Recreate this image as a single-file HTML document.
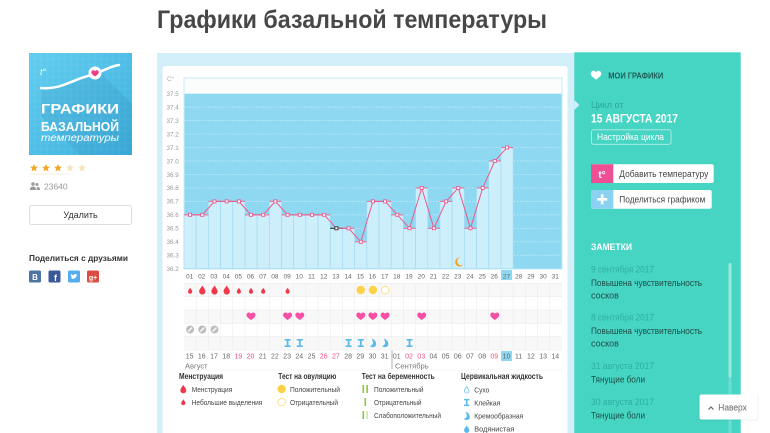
<!DOCTYPE html>
<html><head><meta charset="utf-8"><style>
html,body{margin:0;padding:0;background:#fff;width:770px;height:433px;overflow:hidden}
svg{display:block;font-family:"Liberation Sans","Noto Sans CJK SC",sans-serif}
</style></head><body>
<svg width="770" height="433" viewBox="0 0 770 433" xmlns="http://www.w3.org/2000/svg">
<defs>
<path id="heart" d="M0,4 C-2,2.5 -5,0.5 -5,-1.5 C-5,-3.5 -3.5,-4.5 -2.5,-4.5 C-1.3,-4.5 -0.4,-3.8 0,-3 C0.4,-3.8 1.3,-4.5 2.5,-4.5 C3.5,-4.5 5,-3.5 5,-1.5 C5,0.5 2,2.5 0,4 Z"/>
<path id="drop" d="M0,-5.5 C1.5,-3 3.5,-1 3.5,1 A3.5,3.5 0 0 1 -3.5,1 C-3.5,-1 -1.5,-3 0,-5.5 Z"/>
<g id="sticky" fill="#5cb9ee"><rect x="-3" y="-4" width="6" height="1.6"/><rect x="-0.9" y="-3" width="1.8" height="6"/><rect x="-3" y="2.4" width="6" height="1.6"/></g>
<g id="creamy"><path d="M-1,-4.5 C2.5,-3 4,0 3,2.5 C2,4.5 -1.5,4.8 -3,3 C-1,2.5 0.5,1 0,-1 C-0.3,-2.3 -1,-3.5 -1,-4.5 Z" fill="#5cb9ee"/></g>
<g id="nocirc"><circle r="4" fill="#bdbdbd"/><line x1="-2" y1="2" x2="2" y2="-2" stroke="#fff" stroke-width="1.3"/></g>
<linearGradient id="lg" x1="0" y1="0" x2="1" y2="1"><stop offset="0" stop-color="#62cdef"/><stop offset="1" stop-color="#3cb0de"/></linearGradient>
</defs>

<!-- Title -->
<text x="157" y="28" font-size="25" font-weight="bold" fill="#474747" textLength="390" lengthAdjust="spacingAndGlyphs">Графики базальной температуры</text>

<!-- Left sidebar logo -->
<rect x="29" y="53" width="103" height="102" fill="url(#lg)"/>
<g stroke="#ffffff" stroke-opacity="0.12" stroke-width="0.6">
<line x1="35" y1="53" x2="35" y2="155"/><line x1="41" y1="53" x2="41" y2="155"/><line x1="47" y1="53" x2="47" y2="155"/><line x1="53" y1="53" x2="53" y2="155"/><line x1="59" y1="53" x2="59" y2="155"/><line x1="65" y1="53" x2="65" y2="155"/><line x1="71" y1="53" x2="71" y2="155"/><line x1="77" y1="53" x2="77" y2="155"/><line x1="83" y1="53" x2="83" y2="155"/><line x1="89" y1="53" x2="89" y2="155"/><line x1="95" y1="53" x2="95" y2="155"/><line x1="101" y1="53" x2="101" y2="155"/><line x1="107" y1="53" x2="107" y2="155"/><line x1="113" y1="53" x2="113" y2="155"/><line x1="119" y1="53" x2="119" y2="155"/><line x1="125" y1="53" x2="125" y2="155"/>
<line x1="29" y1="59" x2="132" y2="59"/><line x1="29" y1="65" x2="132" y2="65"/><line x1="29" y1="71" x2="132" y2="71"/><line x1="29" y1="77" x2="132" y2="77"/><line x1="29" y1="83" x2="132" y2="83"/><line x1="29" y1="89" x2="132" y2="89"/><line x1="29" y1="95" x2="132" y2="95"/><line x1="29" y1="101" x2="132" y2="101"/><line x1="29" y1="107" x2="132" y2="107"/><line x1="29" y1="113" x2="132" y2="113"/><line x1="29" y1="119" x2="132" y2="119"/><line x1="29" y1="125" x2="132" y2="125"/><line x1="29" y1="131" x2="132" y2="131"/><line x1="29" y1="137" x2="132" y2="137"/><line x1="29" y1="143" x2="132" y2="143"/><line x1="29" y1="149" x2="132" y2="149"/>
</g>
<polygon points="41,90 100,72 132,104 132,155 80,155 41,116" fill="#1d6f9a" fill-opacity="0.12"/>
<text x="40" y="75" font-size="9" fill="#fff" font-style="italic">t°</text>
<path d="M41,88 C60,90 72,80 88,76 C100,73 110,66 119,65" fill="none" stroke="#fff" stroke-width="2.5" stroke-linecap="round"/>
<circle cx="95" cy="73" r="6.5" fill="#fff"/>
<use href="#heart" x="95" y="73.5" fill="#ee3f84" transform="translate(95,73.5) scale(0.75) translate(-95,-73.5)"/>
<text x="41" y="113.5" font-size="14" font-weight="bold" fill="#fff" textLength="78" lengthAdjust="spacingAndGlyphs">ГРАФИКИ</text>
<text x="41" y="131" font-size="12.5" font-weight="bold" fill="#fff" textLength="78" lengthAdjust="spacingAndGlyphs">БАЗАЛЬНОЙ</text>
<text x="41" y="141" font-size="10" fill="#fff" font-style="italic" textLength="78" lengthAdjust="spacingAndGlyphs">температуры</text>

<!-- stars -->
<g>
<polygon transform="translate(34,168)" points="0,-4 1.2,-1.3 4,-1.2 1.8,0.6 2.5,3.5 0,1.9 -2.5,3.5 -1.8,0.6 -4,-1.2 -1.2,-1.3" fill="#f5a623"/>
<polygon transform="translate(46,168)" points="0,-4 1.2,-1.3 4,-1.2 1.8,0.6 2.5,3.5 0,1.9 -2.5,3.5 -1.8,0.6 -4,-1.2 -1.2,-1.3" fill="#f5a623"/>
<polygon transform="translate(58,168)" points="0,-4 1.2,-1.3 4,-1.2 1.8,0.6 2.5,3.5 0,1.9 -2.5,3.5 -1.8,0.6 -4,-1.2 -1.2,-1.3" fill="#f5a623"/>
<polygon transform="translate(70,168)" points="0,-4 1.2,-1.3 4,-1.2 1.8,0.6 2.5,3.5 0,1.9 -2.5,3.5 -1.8,0.6 -4,-1.2 -1.2,-1.3" fill="#f7e3b8"/>
<polygon transform="translate(82,168)" points="0,-4 1.2,-1.3 4,-1.2 1.8,0.6 2.5,3.5 0,1.9 -2.5,3.5 -1.8,0.6 -4,-1.2 -1.2,-1.3" fill="#f7e3b8"/>
</g>
<line x1="29" y1="174" x2="70" y2="174" stroke="#f6ead0" stroke-width="0.8"/>
<!-- users -->
<g fill="#9a9a9a"><circle cx="33" cy="184" r="1.8"/><path d="M30,190 C30,187 31.5,186.5 33,186.5 C34.5,186.5 36,187 36,190 Z"/><circle cx="37" cy="184.5" r="1.5"/><path d="M36.5,190 C36.5,188 37,187 38,187 C39.3,187 40,188 40,190 Z"/></g>
<text x="44" y="189.5" font-size="8.5" fill="#999">23640</text>
<!-- delete btn -->
<rect x="29.5" y="205.5" width="102" height="19" rx="2" fill="#fff" stroke="#dedede"/>
<text x="80.5" y="218" font-size="9" fill="#333" text-anchor="middle">Удалить</text>
<text x="29" y="261" font-size="8.5" font-weight="bold" fill="#333" textLength="99" lengthAdjust="spacingAndGlyphs">Поделиться с друзьями</text>
<rect x="29" y="270.5" width="12" height="12" rx="1.5" fill="#4c75a3"/><text x="35" y="280" font-size="8" font-weight="bold" fill="#fff" text-anchor="middle">B</text>
<rect x="48.5" y="270.5" width="12" height="12" rx="1.5" fill="#3b5998"/><text x="55.5" y="281" font-size="9" font-weight="bold" fill="#fff" text-anchor="middle">f</text>
<rect x="68" y="270.5" width="12" height="12" rx="1.5" fill="#55acee"/><path d="M70.5,278.5 C72.5,279.5 75.5,279 76.5,276 L77.5,274.5 L76.5,274.7 C76,273.5 74,273.5 73.8,275.3 C72.5,275.2 71.5,274.5 70.8,273.8 C70.5,275 71,276 72,276.5 C71.5,276.6 71,276.4 70.8,276.3 C71,277.3 71.7,277.8 72.4,278 C71.9,278.3 71.2,278.5 70.5,278.5 Z" fill="#fff"/>
<rect x="87" y="270.5" width="12" height="12" rx="1.5" fill="#dc4e41"/><text x="93" y="280" font-size="7" font-weight="bold" fill="#fff" text-anchor="middle">g+</text>

<!-- main container -->
<rect x="157" y="53" width="418" height="380" fill="#d1eef9"/>
<rect x="162.5" y="66" width="405" height="375" rx="3" fill="#fff"/>

<!-- Y axis -->
<text x="167" y="81" font-size="6.5" fill="#aaa">C°</text>
<g font-size="6.3" fill="#999">
<text x="166.5" y="96">37.5</text><text x="166.5" y="109.5">37.4</text><text x="166.5" y="123">37.3</text><text x="166.5" y="136.4">37.2</text><text x="166.5" y="149.8">37.1</text><text x="166.5" y="163.3">37.0</text><text x="166.5" y="176.8">36.9</text><text x="166.5" y="190.2">36.8</text><text x="166.5" y="203.7">36.7</text><text x="166.5" y="217.1">36.6</text><text x="166.5" y="230.6">36.5</text><text x="166.5" y="244">36.4</text><text x="166.5" y="257.5">36.3</text><text x="166.5" y="271">36.2</text>
</g>

<!-- plot -->
<rect x="184" y="78" width="378" height="191" fill="#fbfdfd" stroke="#c4ebf8" stroke-width="1"/>
<rect x="184.5" y="93.7" width="377" height="175" fill="#8fd8f2"/>
<g stroke="#ffffff" stroke-opacity="0.55" stroke-width="0.7" stroke-dasharray="1.5,1.5">
<line x1="184" y1="107.16" x2="562" y2="107.16"/><line x1="184" y1="120.62" x2="562" y2="120.62"/><line x1="184" y1="134.08" x2="562" y2="134.08"/><line x1="184" y1="147.54" x2="562" y2="147.54"/><line x1="184" y1="161" x2="562" y2="161"/><line x1="184" y1="174.46" x2="562" y2="174.46"/><line x1="184" y1="187.92" x2="562" y2="187.92"/><line x1="184" y1="201.38" x2="562" y2="201.38"/><line x1="184" y1="214.84" x2="562" y2="214.84"/><line x1="184" y1="228.3" x2="562" y2="228.3"/><line x1="184" y1="241.76" x2="562" y2="241.76"/><line x1="184" y1="255.22" x2="562" y2="255.22"/>
</g>
<g fill="#cdeefb" stroke="#a3dcf2" stroke-width="0.7">
<rect x="184" y="214.84" width="12.19" height="53.86"/>
<rect x="196.19" y="214.84" width="12.19" height="53.86"/>
<rect x="208.38" y="201.38" width="12.19" height="67.32"/>
<rect x="220.57" y="201.38" width="12.19" height="67.32"/>
<rect x="232.76" y="201.38" width="12.19" height="67.32"/>
<rect x="244.95" y="214.84" width="12.19" height="53.86"/>
<rect x="257.14" y="214.84" width="12.19" height="53.86"/>
<rect x="269.33" y="201.38" width="12.19" height="67.32"/>
<rect x="281.52" y="214.84" width="12.19" height="53.86"/>
<rect x="293.71" y="214.84" width="12.19" height="53.86"/>
<rect x="305.9" y="214.84" width="12.19" height="53.86"/>
<rect x="318.09" y="214.84" width="12.19" height="53.86"/>
<rect x="330.28" y="228.3" width="12.19" height="40.4"/>
<rect x="342.47" y="228.3" width="12.19" height="40.4"/>
<rect x="354.66" y="241.76" width="12.19" height="26.94"/>
<rect x="366.85" y="201.38" width="12.19" height="67.32"/>
<rect x="379.04" y="201.38" width="12.19" height="67.32"/>
<rect x="391.23" y="214.84" width="12.19" height="53.86"/>
<rect x="403.42" y="228.3" width="12.19" height="40.4"/>
<rect x="415.61" y="187.92" width="12.19" height="80.78"/>
<rect x="427.8" y="228.3" width="12.19" height="40.4"/>
<rect x="439.99" y="201.38" width="12.19" height="67.32"/>
<rect x="452.18" y="187.92" width="12.19" height="80.78"/>
<rect x="464.37" y="228.3" width="12.19" height="40.4"/>
<rect x="476.56" y="187.92" width="12.19" height="80.78"/>
<rect x="488.75" y="161" width="12.19" height="107.7"/>
<rect x="500.94" y="147.54" width="12.19" height="121.16"/>
</g>
<!-- caps -->
<g stroke="#e8729c" stroke-width="1.1">
<line x1="184" y1="214.84" x2="196.19" y2="214.84"/><line x1="196.19" y1="214.84" x2="208.38" y2="214.84"/><line x1="208.38" y1="201.38" x2="220.57" y2="201.38"/><line x1="220.57" y1="201.38" x2="232.76" y2="201.38"/><line x1="232.76" y1="201.38" x2="244.95" y2="201.38"/><line x1="244.95" y1="214.84" x2="257.14" y2="214.84"/><line x1="257.14" y1="214.84" x2="269.33" y2="214.84"/><line x1="269.33" y1="201.38" x2="281.52" y2="201.38"/><line x1="281.52" y1="214.84" x2="293.71" y2="214.84"/><line x1="293.71" y1="214.84" x2="305.9" y2="214.84"/><line x1="305.9" y1="214.84" x2="318.09" y2="214.84"/><line x1="318.09" y1="214.84" x2="330.28" y2="214.84"/><line x1="342.47" y1="228.3" x2="354.66" y2="228.3"/><line x1="354.66" y1="241.76" x2="366.85" y2="241.76"/><line x1="366.85" y1="201.38" x2="379.04" y2="201.38"/><line x1="379.04" y1="201.38" x2="391.23" y2="201.38"/><line x1="391.23" y1="214.84" x2="403.42" y2="214.84"/><line x1="403.42" y1="228.3" x2="415.61" y2="228.3"/><line x1="415.61" y1="187.92" x2="427.8" y2="187.92"/><line x1="427.8" y1="228.3" x2="439.99" y2="228.3"/><line x1="439.99" y1="201.38" x2="452.18" y2="201.38"/><line x1="452.18" y1="187.92" x2="464.37" y2="187.92"/><line x1="464.37" y1="228.3" x2="476.56" y2="228.3"/><line x1="476.56" y1="187.92" x2="488.75" y2="187.92"/><line x1="488.75" y1="161" x2="500.94" y2="161"/><line x1="500.94" y1="147.54" x2="513.13" y2="147.54"/>
</g>
<line x1="330.28" y1="228.3" x2="342.47" y2="228.3" stroke="#333" stroke-width="1.1"/>
<polyline fill="none" stroke="#ea5a8d" stroke-width="1" points="190.1,214.84 202.3,214.84 214.5,201.38 226.7,201.38 238.9,201.38 251,214.84 263.2,214.84 275.4,201.38 287.6,214.84 299.8,214.84 312,214.84 324.2,214.84 336.4,228.3 348.6,228.3 360.8,241.76 372.9,201.38 385.1,201.38 397.3,214.84 409.5,228.3 421.7,187.92 433.9,228.3 446.1,201.38 458.3,187.92 470.5,228.3 482.7,187.92 494.8,161 507,147.54"/>
<g fill="#fff" stroke="#ea5a8d" stroke-width="0.9">
<rect x="188.6" y="213.3" width="3" height="3"/><rect x="200.8" y="213.3" width="3" height="3"/><rect x="213" y="199.9" width="3" height="3"/><rect x="225.2" y="199.9" width="3" height="3"/><rect x="237.4" y="199.9" width="3" height="3"/><rect x="249.5" y="213.3" width="3" height="3"/><rect x="261.7" y="213.3" width="3" height="3"/><rect x="273.9" y="199.9" width="3" height="3"/><rect x="286.1" y="213.3" width="3" height="3"/><rect x="298.3" y="213.3" width="3" height="3"/><rect x="310.5" y="213.3" width="3" height="3"/><rect x="322.7" y="213.3" width="3" height="3"/><rect x="347.1" y="226.8" width="3" height="3"/><rect x="359.3" y="240.3" width="3" height="3"/><rect x="371.4" y="199.9" width="3" height="3"/><rect x="383.6" y="199.9" width="3" height="3"/><rect x="395.8" y="213.3" width="3" height="3"/><rect x="408" y="226.8" width="3" height="3"/><rect x="420.2" y="186.4" width="3" height="3"/><rect x="432.4" y="226.8" width="3" height="3"/><rect x="444.6" y="199.9" width="3" height="3"/><rect x="456.8" y="186.4" width="3" height="3"/><rect x="469" y="226.8" width="3" height="3"/><rect x="481.2" y="186.4" width="3" height="3"/><rect x="493.3" y="159.5" width="3" height="3"/><rect x="505.5" y="146" width="3" height="3"/>
</g>
<rect x="334.9" y="226.8" width="3" height="3" fill="#fff" stroke="#333" stroke-width="0.9"/>
<!-- moon -->
<path d="M459.5,257.5 A4.5,4.5 0 1 0 463,265 A3.6,3.6 0 1 1 459.5,257.5 Z" fill="#f5a11c"/>

<!-- day labels -->
<rect x="501" y="270" width="11" height="10" fill="#8fd8f2"/>
<g font-size="6.5" fill="#666" text-anchor="middle">
<text x="189.6" y="278.5">01</text><text x="201.8" y="278.5">02</text><text x="214" y="278.5">03</text><text x="226.2" y="278.5">04</text><text x="238.4" y="278.5">05</text><text x="250.5" y="278.5">06</text><text x="262.7" y="278.5">07</text><text x="274.9" y="278.5">08</text><text x="287.1" y="278.5">09</text><text x="299.3" y="278.5">10</text><text x="311.5" y="278.5">11</text><text x="323.7" y="278.5">12</text><text x="335.9" y="278.5">13</text><text x="348.1" y="278.5">14</text><text x="360.3" y="278.5">15</text><text x="372.4" y="278.5">16</text><text x="384.6" y="278.5">17</text><text x="396.8" y="278.5">18</text><text x="409" y="278.5">19</text><text x="421.2" y="278.5">20</text><text x="433.4" y="278.5">21</text><text x="445.6" y="278.5">22</text><text x="457.8" y="278.5">23</text><text x="470" y="278.5">24</text><text x="482.2" y="278.5">25</text><text x="494.3" y="278.5">26</text><text x="506.5" y="278.5">27</text><text x="518.7" y="278.5">28</text><text x="530.9" y="278.5">29</text><text x="543.1" y="278.5">30</text><text x="555.3" y="278.5">31</text>
</g>

<!-- icon rows grid -->
<rect x="184" y="283.3" width="378" height="13.4" fill="#f8f8f8"/>
<rect x="184" y="310" width="378" height="13.3" fill="#f8f8f8"/>
<rect x="184" y="336.7" width="378" height="13.3" fill="#f8f8f8"/>
<g stroke="#ececec" stroke-width="0.6">
<line x1="184" y1="283.3" x2="562" y2="283.3"/><line x1="184" y1="296.7" x2="562" y2="296.7"/><line x1="184" y1="310" x2="562" y2="310"/><line x1="184" y1="323.3" x2="562" y2="323.3"/><line x1="184" y1="336.7" x2="562" y2="336.7"/><line x1="184" y1="350" x2="562" y2="350"/>
<line x1="196.19" y1="283" x2="196.19" y2="350"/><line x1="208.38" y1="283" x2="208.38" y2="350"/><line x1="220.57" y1="283" x2="220.57" y2="350"/><line x1="232.76" y1="283" x2="232.76" y2="350"/><line x1="244.95" y1="283" x2="244.95" y2="350"/><line x1="257.14" y1="283" x2="257.14" y2="350"/><line x1="269.33" y1="283" x2="269.33" y2="350"/><line x1="281.52" y1="283" x2="281.52" y2="350"/><line x1="293.71" y1="283" x2="293.71" y2="350"/><line x1="305.9" y1="283" x2="305.9" y2="350"/><line x1="318.09" y1="283" x2="318.09" y2="350"/><line x1="330.28" y1="283" x2="330.28" y2="350"/><line x1="342.47" y1="283" x2="342.47" y2="350"/><line x1="354.66" y1="283" x2="354.66" y2="350"/><line x1="366.85" y1="283" x2="366.85" y2="350"/><line x1="379.04" y1="283" x2="379.04" y2="350"/><line x1="391.23" y1="283" x2="391.23" y2="350"/><line x1="403.42" y1="283" x2="403.42" y2="350"/><line x1="415.61" y1="283" x2="415.61" y2="350"/><line x1="427.8" y1="283" x2="427.8" y2="350"/><line x1="439.99" y1="283" x2="439.99" y2="350"/><line x1="452.18" y1="283" x2="452.18" y2="350"/><line x1="464.37" y1="283" x2="464.37" y2="350"/><line x1="476.56" y1="283" x2="476.56" y2="350"/><line x1="488.75" y1="283" x2="488.75" y2="350"/><line x1="500.94" y1="283" x2="500.94" y2="350"/><line x1="513.13" y1="283" x2="513.13" y2="350"/><line x1="525.32" y1="283" x2="525.32" y2="350"/><line x1="537.51" y1="283" x2="537.51" y2="350"/><line x1="549.7" y1="283" x2="549.7" y2="350"/>
</g>
<!-- drops row -->
<g fill="#f0394c">
<use href="#drop" transform="translate(190.1,291) scale(0.6)"/>
<use href="#drop" transform="translate(202.3,290.5) scale(0.9)"/>
<use href="#drop" transform="translate(214.5,290.5) scale(0.9)"/>
<use href="#drop" transform="translate(226.7,290.5) scale(0.9)"/>
<use href="#drop" transform="translate(238.9,291) scale(0.6)"/>
<use href="#drop" transform="translate(251,291) scale(0.6)"/>
<use href="#drop" transform="translate(263.2,291) scale(0.6)"/>
<use href="#drop" transform="translate(287.6,291) scale(0.6)"/>
</g>
<circle cx="360.8" cy="290" r="4.2" fill="#fdd24a"/>
<circle cx="372.9" cy="290" r="4.2" fill="#fdd24a"/>
<circle cx="385.1" cy="290" r="3.8" fill="#fff" stroke="#fde08a" stroke-width="1"/>
<!-- hearts -->
<g fill="#f64fa4">
<use href="#heart" transform="translate(251,316.5) scale(0.9)"/>
<use href="#heart" transform="translate(287.6,316.5) scale(0.9)"/>
<use href="#heart" transform="translate(299.8,316.5) scale(0.9)"/>
<use href="#heart" transform="translate(360.8,316.5) scale(0.9)"/>
<use href="#heart" transform="translate(372.9,316.5) scale(0.9)"/>
<use href="#heart" transform="translate(385.1,316.5) scale(0.9)"/>
<use href="#heart" transform="translate(421.7,316.5) scale(0.9)"/>
<use href="#heart" transform="translate(494.8,316.5) scale(0.9)"/>
</g>
<use href="#nocirc" transform="translate(190.1,329.5)"/>
<use href="#nocirc" transform="translate(202.3,329.5)"/>
<use href="#nocirc" transform="translate(214.5,329.5)"/>
<!-- cervical -->
<use href="#sticky" transform="translate(287.6,343)"/>
<use href="#sticky" transform="translate(299.8,343)"/>
<use href="#sticky" transform="translate(348.6,343)"/>
<use href="#sticky" transform="translate(360.8,343)"/>
<use href="#creamy" transform="translate(372.9,343)"/>
<use href="#creamy" transform="translate(385.1,343)"/>
<use href="#sticky" transform="translate(409.5,343)"/>

<!-- bottom date labels -->
<rect x="501" y="351" width="11" height="10" fill="#8fd8f2"/>
<g font-size="7" fill="#666" text-anchor="middle">
<text x="189.6" y="358.5">15</text><text x="201.8" y="358.5">16</text><text x="214" y="358.5">17</text><text x="226.2" y="358.5">18</text><text x="238.4" y="358.5" fill="#ef4f7f">19</text><text x="250.5" y="358.5" fill="#ef4f7f">20</text><text x="262.7" y="358.5">21</text><text x="274.9" y="358.5">22</text><text x="287.1" y="358.5">23</text><text x="299.3" y="358.5">24</text><text x="311.5" y="358.5">25</text><text x="323.7" y="358.5" fill="#ef4f7f">26</text><text x="335.9" y="358.5" fill="#ef4f7f">27</text><text x="348.1" y="358.5">28</text><text x="360.3" y="358.5">29</text><text x="372.4" y="358.5">30</text><text x="384.6" y="358.5">31</text><text x="396.8" y="358.5">01</text><text x="409" y="358.5" fill="#ef4f7f">02</text><text x="421.2" y="358.5" fill="#ef4f7f">03</text><text x="433.4" y="358.5">04</text><text x="445.6" y="358.5">05</text><text x="457.8" y="358.5">06</text><text x="470" y="358.5">07</text><text x="482.2" y="358.5">08</text><text x="494.3" y="358.5" fill="#ef4f7f">09</text><text x="506.5" y="358.5">10</text><text x="518.7" y="358.5">11</text><text x="530.9" y="358.5">12</text><text x="543.1" y="358.5">13</text><text x="555.3" y="358.5">14</text>
</g>
<line x1="392" y1="350.5" x2="392" y2="369" stroke="#999" stroke-width="0.8"/>
<line x1="184" y1="370" x2="562" y2="370" stroke="#eee" stroke-width="0.6"/>
<text x="185" y="368.5" font-size="7.5" fill="#777">Август</text>
<text x="395" y="368.5" font-size="7.5" fill="#777">Сентябрь</text>

<!-- legend -->
<g font-size="8" font-weight="bold" fill="#333">
<text x="179" y="379" textLength="44" lengthAdjust="spacingAndGlyphs">Менструация</text>
<text x="278.3" y="379" textLength="58" lengthAdjust="spacingAndGlyphs">Тест на овуляцию</text>
<text x="361.7" y="379" textLength="73" lengthAdjust="spacingAndGlyphs">Тест на беременность</text>
<text x="461" y="379" textLength="82" lengthAdjust="spacingAndGlyphs">Цервикальная жидкость</text>
</g>
<g font-size="7.5" fill="#444">
<text x="191.7" y="391.8" textLength="40.6" lengthAdjust="spacingAndGlyphs">Менструация</text>
<text x="191.7" y="404.8" textLength="70.6" lengthAdjust="spacingAndGlyphs">Небольшие выделения</text>
<text x="290" y="391.8" textLength="50" lengthAdjust="spacingAndGlyphs">Положительный</text>
<text x="290" y="404.8" textLength="48" lengthAdjust="spacingAndGlyphs">Отрицательный</text>
<text x="374" y="391.8" textLength="49.5" lengthAdjust="spacingAndGlyphs">Положительный</text>
<text x="374" y="404.8" textLength="47.5" lengthAdjust="spacingAndGlyphs">Отрицательный</text>
<text x="374" y="418" textLength="67" lengthAdjust="spacingAndGlyphs">Слабоположительный</text>
<text x="474.3" y="392.3" textLength="15" lengthAdjust="spacingAndGlyphs">Сухо</text>
<text x="474.3" y="405.3" textLength="26" lengthAdjust="spacingAndGlyphs">Клейкая</text>
<text x="474.3" y="418.5" textLength="49" lengthAdjust="spacingAndGlyphs">Кремообразная</text>
<text x="474.3" y="431.5" textLength="40" lengthAdjust="spacingAndGlyphs">Водянистая</text>
</g>
<use href="#drop" transform="translate(183.3,389.5) scale(0.85)" fill="#f0394c"/>
<use href="#drop" transform="translate(183.3,402.5) scale(0.6)" fill="#f0394c"/>
<circle cx="281.7" cy="389" r="4.2" fill="#fdd24a"/>
<circle cx="281.7" cy="402" r="3.8" fill="#fff" stroke="#fde08a" stroke-width="1"/>
<rect x="362.5" y="385" width="1.6" height="8" fill="#8dc63f"/><rect x="366.3" y="385" width="1.6" height="8" fill="#8dc63f"/>
<rect x="364.5" y="398" width="1.6" height="8" fill="#8dc63f"/>
<rect x="362.5" y="411" width="1.6" height="8" fill="#8dc63f"/><rect x="366.3" y="411" width="1.6" height="8" fill="#cfe6a8"/>
<use href="#drop" transform="translate(466.7,390.2) scale(0.65)" fill="#fff" stroke="#7cc8ef" stroke-width="1.3"/>
<use href="#sticky" transform="translate(466.7,402.5) scale(0.9)"/>
<use href="#creamy" transform="translate(466.7,416) scale(0.95)"/>
<use href="#drop" transform="translate(466.7,429.5) scale(0.75)" fill="#5cb9ee"/>

<!-- right panel -->
<rect x="574.3" y="52.3" width="166.4" height="381" fill="#47d5c3"/>
<polygon points="574.3,100 579.3,105 574.3,110" fill="#d1eef9"/>
<use href="#heart" transform="translate(596,75.5) scale(1.05)" fill="#fff"/>
<text x="608.3" y="78.5" font-size="8.5" font-weight="bold" fill="#1e5d56" textLength="55" lengthAdjust="spacingAndGlyphs">МОИ ГРАФИКИ</text>
<text x="591" y="108" font-size="9" fill="#2aa898">Цикл от</text>
<text x="591" y="122.5" font-size="12" font-weight="bold" fill="#fff" textLength="87" lengthAdjust="spacingAndGlyphs">15 АВГУСТА 2017</text>
<rect x="591.5" y="129.8" width="79.5" height="14.5" rx="2" fill="none" stroke="#ffffff" stroke-opacity="0.6" stroke-width="0.9"/>
<text x="597" y="140.2" font-size="8.8" fill="#fff" textLength="67" lengthAdjust="spacingAndGlyphs">Настройка цикла</text>
<rect x="591" y="164.3" width="122.7" height="18.7" rx="2" fill="#fff"/>
<path d="M591,164.3 h22.3 v18.7 h-22.3 a0,0 0 0 1 0,0 Z" fill="#ee4f94"/>
<text x="602" y="178" font-size="10" font-weight="bold" fill="#fff" text-anchor="middle">t°</text>
<text x="619.3" y="177" font-size="9" fill="#444" textLength="89" lengthAdjust="spacingAndGlyphs">Добавить температуру</text>
<rect x="591" y="190" width="120.7" height="18.7" rx="2" fill="#fff"/>
<rect x="591" y="190" width="22.3" height="18.7" fill="#8bd2f2"/>
<rect x="600.9" y="194.3" width="2.6" height="10" fill="#fff"/><rect x="597.2" y="198" width="10" height="2.6" fill="#fff"/>
<text x="619.3" y="202.7" font-size="9" fill="#444" textLength="86" lengthAdjust="spacingAndGlyphs">Поделиться графиком</text>
<text x="591" y="250" font-size="9" font-weight="bold" fill="#fff" textLength="41" lengthAdjust="spacingAndGlyphs">ЗАМЕТКИ</text>
<g font-size="9">
<text x="591" y="272.5" fill="#2daf9e" textLength="63" lengthAdjust="spacingAndGlyphs">9 сентября 2017</text>
<text x="591" y="286" fill="#1f4d47" textLength="111" lengthAdjust="spacingAndGlyphs">Повышена чувствительность</text>
<text x="591" y="298.5" fill="#1f4d47">сосков</text>
<text x="591" y="320.5" fill="#2daf9e" textLength="63" lengthAdjust="spacingAndGlyphs">8 сентября 2017</text>
<text x="591" y="334" fill="#1f4d47" textLength="111" lengthAdjust="spacingAndGlyphs">Повышена чувствительность</text>
<text x="591" y="346.5" fill="#1f4d47">сосков</text>
<text x="591" y="369" fill="#2daf9e" textLength="63" lengthAdjust="spacingAndGlyphs">31 августа 2017</text>
<text x="591" y="382.5" fill="#1f4d47" textLength="54" lengthAdjust="spacingAndGlyphs">Тянущие боли</text>
<text x="591" y="405" fill="#2daf9e" textLength="63" lengthAdjust="spacingAndGlyphs">30 августа 2017</text>
<text x="591" y="418.5" fill="#1f4d47" textLength="54" lengthAdjust="spacingAndGlyphs">Тянущие боли</text>
</g>
<rect x="728.5" y="378" width="3" height="60" rx="1.5" fill="#ffffff" fill-opacity="0.2"/>
<rect x="728.5" y="263" width="3" height="115" rx="1.5" fill="#ffffff" fill-opacity="0.45"/>
<!-- Наверх -->
<rect x="698.5" y="394.5" width="60" height="26" rx="2.5" fill="#000" fill-opacity="0.06"/>
<rect x="699.5" y="394.5" width="58" height="25" rx="2" fill="#fff"/>
<polyline points="708.5,409.5 711,407 713.5,409.5" fill="none" stroke="#666" stroke-width="1.2"/>
<text x="718.3" y="410.5" font-size="9" fill="#666" textLength="28.5" lengthAdjust="spacingAndGlyphs">Наверх</text>
</svg>
</body></html>
